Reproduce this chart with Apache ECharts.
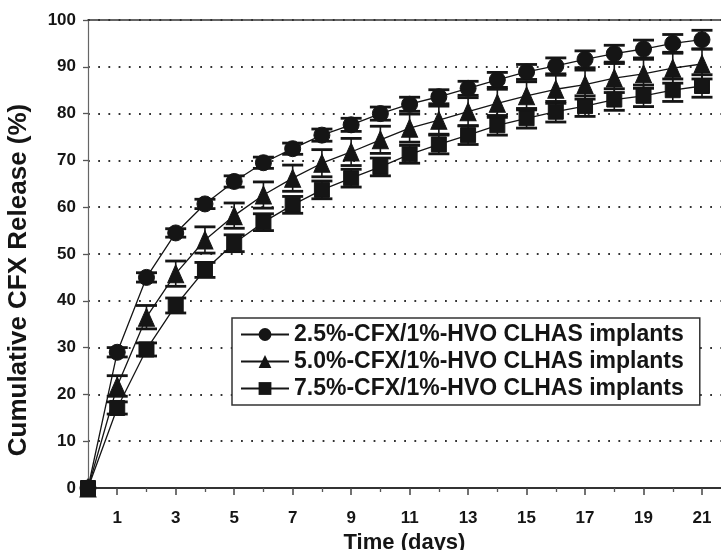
<!DOCTYPE html>
<html>
<head>
<meta charset="utf-8">
<script src="https://cdn.jsdelivr.net/npm/echarts@6/dist/echarts.min.js"></script>
<style>html,body{margin:0;padding:0;background:#fff}#c{width:721px;height:550px}</style>
</head>
<body>
<div id="c"></div>
<script>
var days = [0,1,2,3,4,5,6,7,8,9,10,11,12,13,14,15,16,17,18,19,20,21];
var oddTicks = [1,3,5,7,9,11,13,15,17,19,21];
var evenTicks = [2,4,6,8,10,12,14,16,18,20];
var yTicks = [0,10,20,30,40,50,60,70,80,90,100];
var names = ['2.5%-CFX/1%-HVO CLHAS implants','5.0%-CFX/1%-HVO CLHAS implants','7.5%-CFX/1%-HVO CLHAS implants'];
var relA = [0,29,45,54.5,60.7,65.5,69.5,72.5,75.4,77.6,80,82,83.6,85.4,87.2,88.9,90.2,91.6,92.8,93.8,95,95.8];
var errA = [0,1,1,0.9,1,1.2,1.2,1.2,1.3,1.4,1.4,1.5,1.5,1.5,1.6,1.6,1.7,1.8,1.8,1.9,1.9,2];
var relB = [0,21.8,36.5,45.8,53,58.2,62.6,66.2,69.4,71.8,74.4,76.9,78.6,80.4,82.2,83.8,85.2,86.2,87.6,88.5,89.7,90.6];
var errB = [0,2.2,2.5,2.7,2.8,2.7,2.8,2.8,2.9,2.9,2.9,3,3,3,3,3,3,3.1,3.1,3.1,3.2,3.2];
var relC = [0,17.1,29.6,39,46.6,52.3,56.8,60.5,63.7,66.2,68.6,71.3,73.4,75.4,77.5,79,80.4,81.6,83,83.8,85,85.9];
var errC = [0,1.3,1.4,1.6,1.6,1.8,1.8,1.8,1.9,1.9,1.9,1.9,2,2,2.1,2.1,2.2,2.2,2.3,2.3,2.4,2.4];

var FONT = "'Liberation Sans', Arial, sans-serif";
var INK = '#151515';

function pairs(vals){ return days.map(function(d,i){ return [d, vals[i]]; }); }
function errData(vals, errs){ return days.map(function(d,i){ return [d, vals[i]-errs[i], vals[i]+errs[i]]; }).filter(function(r){ return r[2] > r[1]; }); }

function errRender(params, api){
  var x = api.value(0), lo = api.value(1), hi = api.value(2);
  var pLo = api.coord([x, lo]), pHi = api.coord([x, hi]);
  var hw = 10.5;
  return {type:'group', children:[
    {type:'line', shape:{x1:pLo[0], y1:pLo[1], x2:pHi[0], y2:pHi[1]}, style:{stroke:INK, lineWidth:1.6}},
    {type:'line', shape:{x1:pLo[0]-hw, y1:pLo[1], x2:pLo[0]+hw, y2:pLo[1]}, style:{stroke:INK, lineWidth:2.8}},
    {type:'line', shape:{x1:pHi[0]-hw, y1:pHi[1], x2:pHi[0]+hw, y2:pHi[1]}, style:{stroke:INK, lineWidth:2.8}}
  ]};
}

var symbols = ['circle','triangle','rect'];
var sizes = [16, [16,18], 15];
var rels = [relA, relB, relC];
var errs = [errA, errB, errC];

var series = [];
for (var k=0;k<3;k++){
  series.push({type:'custom', name:'err'+k, xAxisIndex:0, yAxisIndex:0, renderItem:errRender,
    encode:{x:0, y:[1,2]}, data:errData(rels[k], errs[k]), z:3, silent:true});
}
for (var k2=0;k2<3;k2++){
  series.push({type:'line', name:names[k2], xAxisIndex:0, yAxisIndex:0, data:pairs(rels[k2]),
    symbol:symbols[k2], symbolSize:sizes[k2], showAllSymbol:true,
    lineStyle:{color:INK, width:1.3}, itemStyle:{color:INK, borderColor:INK}, z:4, animation:false});
}

var chart = echarts.init(document.getElementById('c'), null, {renderer:'canvas'});
chart.setOption({
  animation:false,
  backgroundColor:'#fff',
  grid:{left:88, top:20, width:633, bottom:62, containLabel:false, outerBoundsMode:'none'},
  legend:{
    data:names, orient:'vertical', left:232, top:318,
    itemWidth:48, itemHeight:16, itemGap:4,
    padding:[5,16,5,8],
    backgroundColor:'#fff', borderColor:'#333', borderWidth:1.5,
    textStyle:{fontFamily:FONT, fontWeight:'bold', fontSize:23, color:INK}
  },
  xAxis:[
    {type:'value', min:0, max:21.65, position:'bottom',
     name:'Time (days)', nameLocation:'middle', nameGap:41,
     nameTextStyle:{fontFamily:FONT, fontWeight:'bold', fontSize:22, color:INK},
     axisLine:{show:true, onZero:false, lineStyle:{color:'#333', width:1.8}},
     axisTick:{show:true, customValues:oddTicks, length:7, lineStyle:{color:'#444', width:1.5}},
     axisLabel:{customValues:oddTicks, margin:22, fontFamily:FONT, fontWeight:'bold', fontSize:17, color:INK},
     splitLine:{show:false}},
    {type:'value', min:0, max:21.65, position:'bottom',
     axisLine:{show:false},
     axisTick:{show:true, customValues:evenTicks, length:4, lineStyle:{color:'#555', width:1.3}},
     axisLabel:{show:false}, splitLine:{show:false}},
    {type:'value', min:0, max:21.65, position:'top',
     axisLine:{show:true, onZero:false, lineStyle:{color:'#333', width:1.6}},
     axisTick:{show:false}, axisLabel:{show:false}, splitLine:{show:false}}
  ],
  yAxis:[{type:'value', min:0, max:100, interval:10,
    axisLine:{show:true, onZero:false, lineStyle:{color:'#666', width:1.2}},
    axisTick:{show:true, length:5, lineStyle:{color:'#555', width:1.3}},
    axisLabel:{margin:12, fontFamily:FONT, fontWeight:'bold', fontSize:17, color:INK},
    splitLine:{show:true, lineStyle:{color:'#333', width:1.8, type:[1.8, 8.4]}}
  }],
  graphic:[{type:'text', x:19, y:280, rotation:Math.PI/2,
    style:{text:'Cumulative CFX Release (%)', fill:INK, font:'bold 26px ' + FONT, align:'center', verticalAlign:'middle'}}],
  series:series
});
</script>
</body>
</html>
